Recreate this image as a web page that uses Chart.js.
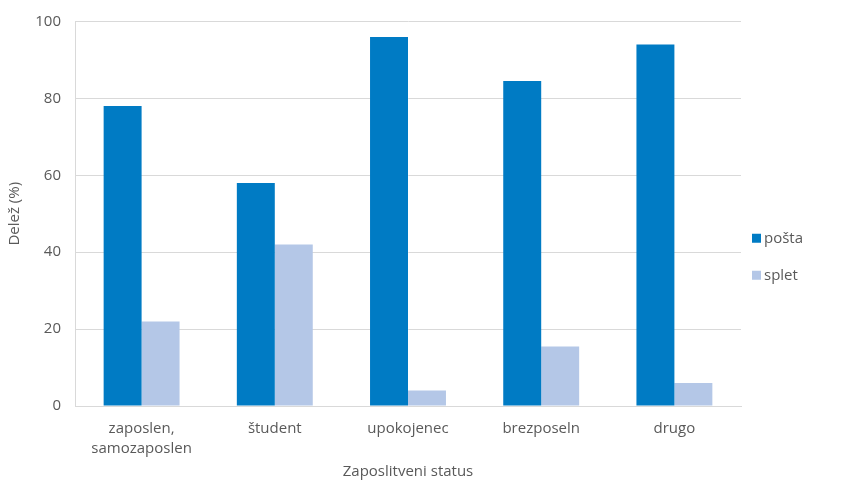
<!DOCTYPE html>
<html>
<head>
<meta charset="utf-8">
<script src="https://cdn.jsdelivr.net/npm/chart.js@4"></script>
<style>
  html, body { margin: 0; padding: 0; background: #ffffff; }
  #wrap { width: 868px; height: 482px; position: relative; }
</style>
</head>
<body>
<div id="wrap"><canvas id="c" width="868" height="482"></canvas></div>
<script>
// Employment status categories (multi-line labels as arrays)
const categories = [["zaposlen,", "samozaposlen"], "študent", "upokojenec", "brezposeln", "drugo"];
// Share of respondents by response mode (%)
const postaValues = [78, 58, 96, 84.5, 94];
const spletValues = [22, 42, 4, 15.5, 6];
const yTicks = [0, 20, 40, 60, 80, 100];

const textColor = '#595959';
const gridColor = '#D9D9D9';
const fontFamily = "'Open Sans', 'Lato', sans-serif";
const fontSize = 15;

// Legend drawn to the right of the plot area, one row per dataset
const sideLegend = {
  id: 'sideLegend',
  afterDraw(chart) {
    const ctx = chart.ctx;
    const area = chart.chartArea;
    const x0 = area.right + 11;
    const rowGap = 37;
    const n = chart.data.datasets.length;
    const midY = (area.top + area.bottom) / 2 + 43;
    ctx.save();
    ctx.font = `${fontSize}px ${fontFamily}`;
    ctx.textBaseline = 'middle';
    ctx.textAlign = 'left';
    chart.data.datasets.forEach((ds, i) => {
      const y = midY - ((n - 1) / 2) * rowGap + i * rowGap;
      ctx.fillStyle = ds.backgroundColor;
      ctx.fillRect(x0, y - 4.5, 9, 9);
      ctx.fillStyle = textColor;
      ctx.fillText(ds.label, x0 + 12, y);
    });
    ctx.restore();
  }
};

new Chart(document.getElementById('c'), {
  type: 'bar',
  data: {
    labels: categories,
    datasets: [
      { label: 'pošta', data: postaValues, backgroundColor: '#007BC4', borderWidth: 0 },
      { label: 'splet', data: spletValues, backgroundColor: '#B4C7E7', borderWidth: 0 }
    ]
  },
  plugins: [sideLegend],
  options: {
    responsive: false,
    animation: false,
    devicePixelRatio: 1,
    layout: { padding: { top: 20, right: 127, left: 0, bottom: 0 } },
    datasets: { bar: { categoryPercentage: 0.57, barPercentage: 1.0 } },
    plugins: {
      tooltip: { enabled: false },
      legend: { display: false }
    },
    scales: {
      x: {
        grid: { display: false, drawTicks: false },
        border: { color: gridColor, width: 1 },
        afterFit: (axis) => { axis.height = 76; },
        ticks: {
          color: textColor,
          font: { family: fontFamily, size: fontSize, lineHeight: 1.3 },
          padding: 13,
          maxRotation: 0,
          autoSkip: false
        },
        title: {
          display: true,
          text: 'Zaposlitveni status',
          color: textColor,
          font: { family: fontFamily, size: fontSize },
          padding: { top: 0, bottom: 1 }
        }
      },
      y: {
        min: 0,
        max: 100,
        afterBuildTicks: (axis) => { axis.ticks = yTicks.map(v => ({ value: v })); },
        afterFit: (axis) => { axis.width = 75; },
        grid: { color: gridColor, lineWidth: 1, drawTicks: false },
        border: { color: gridColor, width: 1 },
        ticks: {
          color: textColor,
          font: { family: fontFamily, size: fontSize, lineHeight: 1.0 },
          padding: 14
        },
        title: {
          display: true,
          text: 'Delež (%)',
          color: textColor,
          font: { family: fontFamily, size: fontSize },
          padding: { top: 6, bottom: 0 }
        }
      }
    }
  }
});
</script>
</body>
</html>
